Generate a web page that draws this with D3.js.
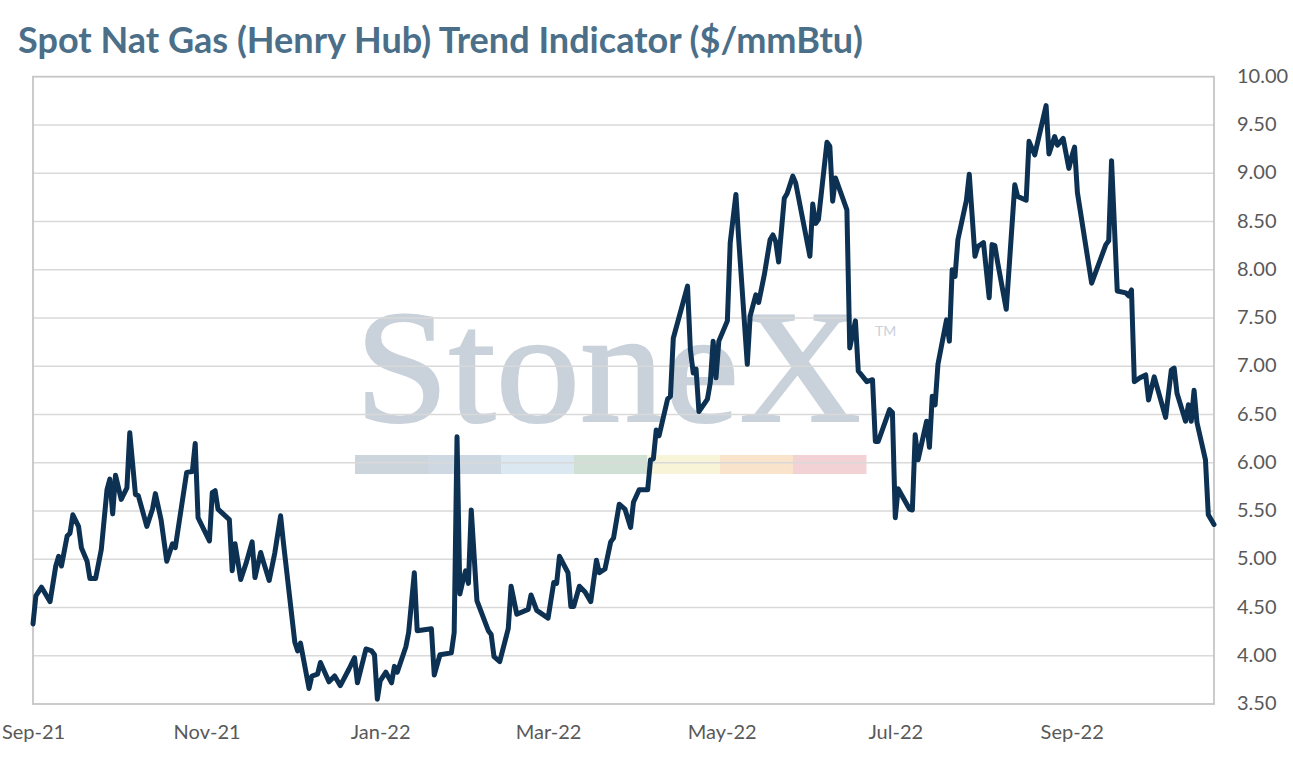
<!DOCTYPE html>
<html><head><meta charset="utf-8">
<script src="https://cdn.jsdelivr.net/npm/d3@7"></script>
<style>body{margin:0;background:#fff;} svg{display:block;}</style>
</head><body>
<svg id="chart" width="1293" height="766"></svg>
<script>
const title = "Spot Nat Gas (Henry Hub) Trend Indicator ($/mmBtu)";

const dates = [
"2021-09-01","2021-09-02","2021-09-04","2021-09-07","2021-09-09","2021-09-10","2021-09-11","2021-09-13","2021-09-14","2021-09-15",
"2021-09-17","2021-09-18","2021-09-20","2021-09-21","2021-09-23","2021-09-25","2021-09-27","2021-09-28","2021-09-29","2021-09-30",
"2021-10-02","2021-10-04","2021-10-05","2021-10-07","2021-10-08","2021-10-11","2021-10-13","2021-10-14","2021-10-16","2021-10-18",
"2021-10-20","2021-10-21","2021-10-25","2021-10-27","2021-10-28","2021-10-29","2021-11-02","2021-11-03","2021-11-04","2021-11-05",
"2021-11-09","2021-11-10","2021-11-11","2021-11-13","2021-11-15","2021-11-17","2021-11-18","2021-11-20","2021-11-21","2021-11-23",
"2021-11-25","2021-11-27","2021-11-28","2021-12-02","2021-12-03","2021-12-04","2021-12-07","2021-12-08","2021-12-10","2021-12-11",
"2021-12-14","2021-12-16","2021-12-18","2021-12-21","2021-12-23","2021-12-24","2021-12-27","2021-12-29","2021-12-30","2021-12-31",
"2022-01-01","2022-01-03","2022-01-05","2022-01-06","2022-01-07","2022-01-10","2022-01-11","2022-01-13","2022-01-14","2022-01-19",
"2022-01-20","2022-01-22","2022-01-26","2022-01-27","2022-01-28","2022-01-29","2022-01-30","2022-01-31","2022-02-01","2022-02-02",
"2022-02-04","2022-02-08","2022-02-09","2022-02-10","2022-02-12","2022-02-15","2022-02-16","2022-02-18","2022-02-22","2022-02-23",
"2022-02-25","2022-03-01","2022-03-03","2022-03-04","2022-03-05","2022-03-08","2022-03-09","2022-03-10","2022-03-12","2022-03-14",
"2022-03-16","2022-03-18","2022-03-19","2022-03-21","2022-03-23","2022-03-24","2022-03-26","2022-03-28","2022-03-30","2022-03-31",
"2022-04-02","2022-04-05","2022-04-06","2022-04-07","2022-04-08","2022-04-09","2022-04-12","2022-04-13","2022-04-14","2022-04-19",
"2022-04-20","2022-04-21","2022-04-22","2022-04-23","2022-04-26","2022-04-27","2022-04-28","2022-04-29","2022-04-30","2022-05-03",
"2022-05-04","2022-05-06","2022-05-07","2022-05-10","2022-05-11","2022-05-13","2022-05-14","2022-05-16","2022-05-18","2022-05-19",
"2022-05-20","2022-05-21","2022-05-23","2022-05-24","2022-05-26","2022-05-27","2022-06-01","2022-06-02","2022-06-03","2022-06-04",
"2022-06-07","2022-06-08","2022-06-09","2022-06-10","2022-06-14","2022-06-15","2022-06-17","2022-06-18","2022-06-21","2022-06-23",
"2022-06-24","2022-06-25","2022-06-29","2022-06-30","2022-07-01","2022-07-02","2022-07-06","2022-07-07","2022-07-08","2022-07-09",
"2022-07-12","2022-07-13","2022-07-14","2022-07-15","2022-07-16","2022-07-19","2022-07-20","2022-07-21","2022-07-22","2022-07-23",
"2022-07-26","2022-07-27","2022-07-29","2022-07-30","2022-08-01","2022-08-03","2022-08-04","2022-08-05","2022-08-06","2022-08-09",
"2022-08-12","2022-08-13","2022-08-16","2022-08-17","2022-08-19","2022-08-23","2022-08-24","2022-08-26","2022-08-27","2022-08-29",
"2022-08-31","2022-09-01","2022-09-02","2022-09-03","2022-09-08","2022-09-13","2022-09-14","2022-09-15","2022-09-17","2022-09-20",
"2022-09-21","2022-09-22","2022-09-23","2022-09-25","2022-09-27","2022-09-28","2022-09-30","2022-10-04","2022-10-06","2022-10-07",
"2022-10-08","2022-10-11","2022-10-12","2022-10-13","2022-10-14","2022-10-15","2022-10-18","2022-10-19","2022-10-21"
];

const values = [
4.33,4.62,4.71,4.56,4.93,5.03,4.93,5.24,5.27,5.46,
5.34,5.12,4.98,4.80,4.80,5.10,5.72,5.83,5.47,5.87,
5.62,5.74,6.31,5.67,5.66,5.34,5.52,5.68,5.41,4.98,
5.16,5.12,5.90,5.91,6.20,5.43,5.19,5.69,5.71,5.52,
5.41,4.88,5.16,4.79,4.97,5.18,4.81,5.07,4.97,4.78,
5.07,5.45,5.17,4.14,4.05,4.13,3.66,3.79,3.81,3.93,
3.73,3.79,3.69,3.86,3.98,3.72,4.07,4.05,4.01,3.55,
3.74,3.83,3.72,3.89,3.83,4.09,4.24,4.86,4.26,4.28,
3.80,4.01,4.03,4.24,6.27,4.64,4.77,4.88,4.75,5.51,
4.57,4.26,4.22,3.99,3.94,4.28,4.72,4.43,4.48,4.63,
4.47,4.39,4.76,4.75,5.03,4.86,4.51,4.51,4.72,4.66,
4.56,4.99,4.86,4.90,5.18,5.22,5.57,5.52,5.33,5.59,
5.72,5.72,6.03,6.04,6.34,6.28,6.66,6.69,7.29,7.83,
7.17,6.93,6.97,6.53,6.66,6.83,7.26,6.88,7.26,7.47,
8.28,8.78,8.31,7.02,7.52,7.74,7.66,7.95,8.31,8.36,
8.29,8.08,8.74,8.79,8.97,8.90,8.14,8.68,8.48,8.52,
9.32,9.28,8.71,8.95,8.62,7.19,7.47,6.95,6.84,6.86,
6.22,6.22,6.55,6.52,5.43,5.73,5.52,5.51,6.29,6.03,
6.43,6.16,6.69,6.60,7.02,7.48,7.26,8.00,7.93,8.31,
8.72,8.99,8.14,8.24,8.28,7.71,8.26,8.25,8.07,7.59,
8.88,8.76,8.72,9.33,9.19,9.70,9.20,9.38,9.29,9.36,
9.05,9.17,9.27,8.80,7.86,8.26,8.30,9.13,7.78,7.76,
7.73,7.79,6.84,6.88,6.91,6.65,6.89,6.47,6.96,6.98,
6.72,6.43,6.60,6.43,6.75,6.42,6.03,5.46,5.36
];

const yTicks = [3.5,4,4.5,5,5.5,6,6.5,7,7.5,8,8.5,9,9.5,10];
const xTickDates = ["2021-09-01","2021-11-01","2022-01-01","2022-03-01","2022-05-01","2022-07-01","2022-09-01"];
const xDomain = ["2021-09-01","2022-10-21"];
const watermarkText = "StoneX";
const watermarkColors = ["#ccd4dc","#cdd8e2","#dbe8f2","#d0e0d4","#f8f4d8","#f9e3ca","#f2d2d5"];

const svg = d3.select("#chart");
const parse = d3.utcParse("%Y-%m-%d");
const L = 33, R = 1214, T = 76.7, B = 704;

const x = d3.scaleUtc().domain(xDomain.map(parse)).range([L, R]);
const y = d3.scaleLinear().domain([3.5, 10]).range([B, T]);

const data = dates.map((d, i) => ({date: parse(d), value: values[i]}));

// Title
const tt = svg.append("text")
  .attr("x", 18).attr("y", 53)
  .attr("font-family", "Lato, 'Open Sans', sans-serif")
  .attr("font-weight", 700)
  .attr("font-size", 28)
  .attr("fill", "#4b6f89")
  .text(title);
const tw = tt.node().getComputedTextLength();
tt.attr("font-size", 28 * 845 / tw);

// Watermark
const wm = svg.append("g");
wm.append("text")
  .attr("x", 355).attr("y", 421)
  .attr("font-family", "'Liberation Serif', 'DejaVu Serif', serif")
  .attr("font-size", 162)
  .attr("fill", "#c9d1da")
  .attr("stroke", "#c9d1da")
  .attr("stroke-width", 2)
  .attr("textLength", 506)
  .attr("lengthAdjust", "spacingAndGlyphs")
  .text(watermarkText);
wm.append("text")
  .attr("x", 875).attr("y", 336)
  .attr("font-family", "Lato, sans-serif")
  .attr("font-size", 14)
  .attr("fill", "#c9d1da")
  .text("TM");
const barX = d3.scaleBand().domain(d3.range(watermarkColors.length)).range([355, 866]);
wm.selectAll("rect.wmbar").data(watermarkColors).join("rect")
  .attr("class", "wmbar")
  .attr("x", (d, i) => barX(i)).attr("y", 455)
  .attr("width", barX.bandwidth() + 0.5).attr("height", 19)
  .attr("fill", d => d);

// Gridlines
svg.append("g").selectAll("line").data(yTicks.filter(v => v > 3.5 && v < 10)).join("line")
  .attr("x1", L).attr("x2", R)
  .attr("y1", d => y(d)).attr("y2", d => y(d))
  .attr("stroke", "#d9d9d9").attr("stroke-width", 1.5);

// Plot border
svg.append("rect")
  .attr("x", L).attr("y", T).attr("width", R - L).attr("height", B - T)
  .attr("fill", "none").attr("stroke", "#c6c6c6").attr("stroke-width", 1.8);

// Y axis on the right
const yAxis = d3.axisRight(y).tickValues(yTicks).tickFormat(d3.format(".2f")).tickSize(0).tickPadding(23);
const gy = svg.append("g").attr("transform", `translate(${R},0)`).call(yAxis);
gy.select(".domain").remove();
gy.selectAll("text")
  .attr("font-family", "Lato, sans-serif").attr("font-size", 20)
  .attr("fill", "#595959").attr("dy", "0.28em");

// X axis
const xAxis = d3.axisBottom(x).tickValues(xTickDates.map(parse)).tickFormat(d3.utcFormat("%b-%y")).tickSize(0).tickPadding(21);
const gx = svg.append("g").attr("transform", `translate(0,${B})`).call(xAxis);
gx.select(".domain").remove();
gx.selectAll("text")
  .attr("font-family", "Lato, sans-serif").attr("font-size", 20)
  .attr("fill", "#595959");

// Line
const line = d3.line().x(d => x(d.date)).y(d => y(d.value));
svg.append("path").datum(data)
  .attr("d", line)
  .attr("fill", "none")
  .attr("stroke", "#0c3152")
  .attr("stroke-width", 5)
  .attr("stroke-linejoin", "round")
  .attr("stroke-linecap", "round");
</script>
</body></html>
